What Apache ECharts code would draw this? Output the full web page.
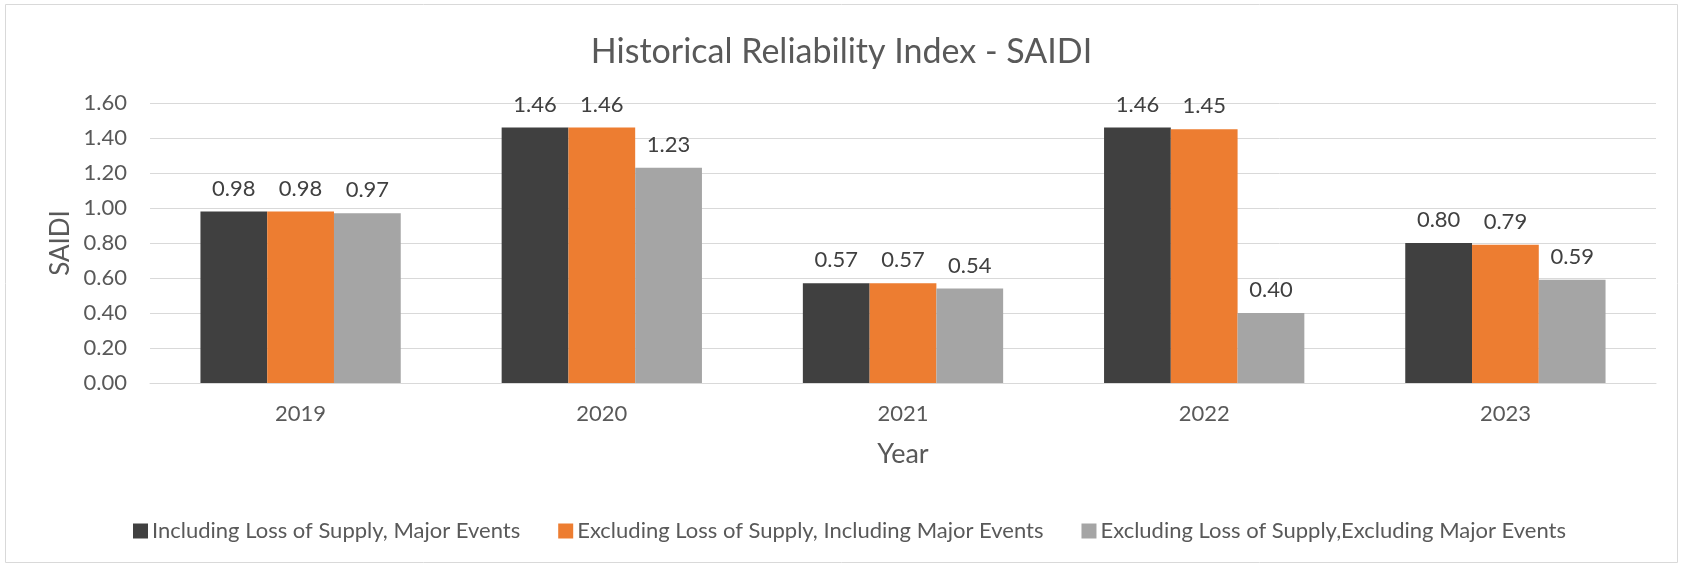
<!DOCTYPE html>
<html>
<head>
<meta charset="utf-8">
<script src="https://cdn.jsdelivr.net/npm/echarts@6/dist/echarts.min.js"></script>
<style>
html,body{margin:0;padding:0;background:#fff;}
#chart{width:1683px;height:566px;}
</style>
</head>
<body>
<div id="chart"></div>
<script>
const years = ['2019', '2020', '2021', '2022', '2023'];
const inclLossMajor = [0.98, 1.46, 0.57, 1.46, 0.80];
const exclLossInclMajor = [0.98, 1.46, 0.57, 1.45, 0.79];
const exclLossExclMajor = [0.97, 1.23, 0.54, 0.40, 0.59];
const seriesNames = [
  'Including Loss of Supply, Major Events',
  'Excluding Loss of Supply, Including Major Events',
  'Excluding Loss of Supply,Excluding Major Events'
];
const colors = ['#404040', '#ED7D31', '#A5A5A5'];
const FONT = 'Lato';

const chart = echarts.init(document.getElementById('chart'));
const label = {
  show: true, position: 'top', distance: 12,
  fontFamily: FONT, fontSize: 22, color: '#404040',
  formatter: p => p.value.toFixed(2)
};
const mk = (name, data, i) => ({
  name, type: 'bar', data, barGap: '0%', barCategoryGap: '33.5%',
  itemStyle: { color: colors[i] }, label
});
chart.setOption({
  animation: false,
  textStyle: { fontFamily: FONT },
  title: {
    text: 'Historical Reliability Index - SAIDI',
    left: 'center', top: 30,
    textStyle: { fontFamily: FONT, fontSize: 34, fontWeight: 'normal', color: '#595959' }
  },
  legend: {
    top: 515, left: 128, itemWidth: 15, itemHeight: 15, itemGap: 38,
    icon: 'rect',
    textStyle: { fontFamily: FONT, fontSize: 22, color: '#595959', padding: [0, 0, 0, -1] },
    data: seriesNames
  },
  grid: { left: 150, right: 27, top: 103, bottom: 183, containLabel: false },
  xAxis: {
    type: 'category', data: years,
    name: 'Year', nameLocation: 'middle', nameGap: 58, nameMoveOverlap: false,
    nameTextStyle: { fontFamily: FONT, fontSize: 27, color: '#595959' },
    axisLine: { lineStyle: { color: '#D9D9D9', width: 1 } },
    axisTick: { show: false },
    axisLabel: { fontFamily: FONT, fontSize: 22, color: '#595959', margin: 20 }
  },
  yAxis: {
    type: 'value', min: 0, max: 1.6, interval: 0.2,
    name: 'SAIDI', nameLocation: 'middle', nameGap: 76, nameRotate: 90, nameMoveOverlap: false,
    nameTextStyle: { fontFamily: FONT, fontSize: 26, color: '#595959' },
    axisLine: { show: false }, axisTick: { show: false },
    splitLine: { lineStyle: { color: '#D9D9D9', width: 1 } },
    axisLabel: { fontFamily: FONT, fontSize: 22, color: '#595959', margin: 23,
      formatter: v => v.toFixed(2) }
  },
  graphic: [{
    type: 'rect', shape: { x: 5.5, y: 4.5, width: 1672, height: 558 },
    style: { fill: 'none', stroke: '#D9D9D9', lineWidth: 1 }, silent: true, z: -1
  }],
  series: [
    mk(seriesNames[0], inclLossMajor, 0),
    mk(seriesNames[1], exclLossInclMajor, 1),
    mk(seriesNames[2], exclLossExclMajor, 2)
  ]
});
</script>
</body>
</html>
